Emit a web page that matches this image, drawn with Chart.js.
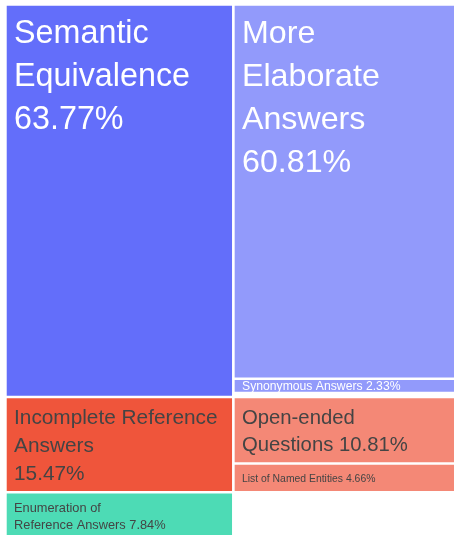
<!DOCTYPE html>
<html>
<head>
<meta charset="utf-8">
<script src="https://cdn.jsdelivr.net/npm/chart.js@4"></script>
<style>
html, body { margin: 0; padding: 0; background: #fff; overflow: hidden; }
canvas { display: block; }
</style>
</head>
<body>
<canvas id="drevo" width="470" height="545"></canvas>
<script>
// data
const categories = ['Semantic\nEquivalence', 'More\nElaborate\nAnswers', 'Synonymous Answers',
    'Incomplete Reference\nAnswers', 'Open-ended\nQuestions', 'List of Named Entities',
    'Enumeration of\nReference Answers'];
const percents = [63.77, 60.81, 2.33, 15.47, 10.81, 4.66, 7.84];
const parents = [-1, 0, 0, -1, 3, 3, -1];   // -1 = top level

// styles
const barve = ['#636efa', '#929afb', '#929afb', '#ef553b', '#f48876', '#f48876', '#4ddbb5'];
const barve_pisave = ['#fff', '#fff', '#fff', '#444', '#444', '#444', '#444'];
const vel_pisave = [32.3, 32.2, 12.2, 20.8, 20.3, 10.4, 12.8];
const odstotek_v_novo_vrsto = [true, true, false, true, false, false, false];
const font = '"Liberation Sans", Arial, sans-serif';
const rob = 1.65;

// icicle layout: top level stacked in first column, children start where their parent starts
const zacetki = [], konci = [];
let pos = 0;
percents.forEach((v, i) => {
    if (parents[i] === -1) { zacetki[i] = pos; pos += v; konci[i] = pos; }
});
const skupaj = pos;
const otroci_pos = {};
percents.forEach((v, i) => {
    const p = parents[i];
    if (p !== -1) {
        if (otroci_pos[p] === undefined) otroci_pos[p] = zacetki[p];
        zacetki[i] = otroci_pos[p];
        otroci_pos[p] += v;
        konci[i] = otroci_pos[p];
    }
});

const napisi = {
    id: 'napisi',
    afterDatasetsDraw(chart) {
        const ctx = chart.ctx;
        ctx.save();
        chart.data.datasets.forEach((ds, i) => {
            const col = parents[i] === -1 ? 0 : 1;
            const el = chart.getDatasetMeta(i).data[col];
            const p = el.getProps(['x', 'y', 'base', 'width'], true);
            const levo = p.x - p.width / 2 + rob;
            const zgoraj = Math.min(p.y, p.base) + rob;
            const spodaj = Math.max(p.y, p.base) - rob;
            const fs = vel_pisave[i];
            const vrste = categories[i].split('\n');
            const odst = percents[i].toFixed(2) + '%';
            if (odstotek_v_novo_vrsto[i]) vrste.push(odst);
            else vrste[vrste.length - 1] += ' ' + odst;
            const lh = fs * 1.33;
            ctx.font = fs + 'px ' + font;
            ctx.fillStyle = barve_pisave[i];
            ctx.textAlign = 'left';
            ctx.textBaseline = 'alphabetic';
            const x = levo + 7;
            vrste.forEach((t, k) => {
                let y;
                if (fs >= 32) {
                    y = zgoraj + 5 + fs + k * lh;
                } else {
                    const sred = (zgoraj + spodaj) / 2;
                    y = sred + (k - (vrste.length - 1) / 2) * lh + 0.36 * fs;
                }
                ctx.fillText(t, x, y);
            });
        });
        ctx.restore();
    }
};

const platno = document.getElementById('drevo').getContext('2d');
const graf = new Chart(platno, {
    type: 'bar',
    data: {
        labels: ['level 1', 'level 2'],
        datasets: categories.map((c, i) => ({
            label: c,
            data: parents[i] === -1 ? [[zacetki[i], konci[i]], null] : [null, [zacetki[i], konci[i]]],
            backgroundColor: barve[i],
            borderColor: '#fff',
            borderWidth: rob,
            borderSkipped: false,
            barPercentage: 1,
            categoryPercentage: 1
        }))
    },
    options: {
        responsive: false,
        animation: false,
        layout: { padding: { left: 5.4, right: 8.7, top: 4.4, bottom: 4.5 } },
        plugins: {
            legend: { display: false },
            tooltip: { enabled: false }
        },
        scales: {
            x: { display: false, stacked: true },
            y: { display: false, reverse: true, min: 0, max: skupaj }
        }
    },
    plugins: [napisi]
});
</script>
</body>
</html>
